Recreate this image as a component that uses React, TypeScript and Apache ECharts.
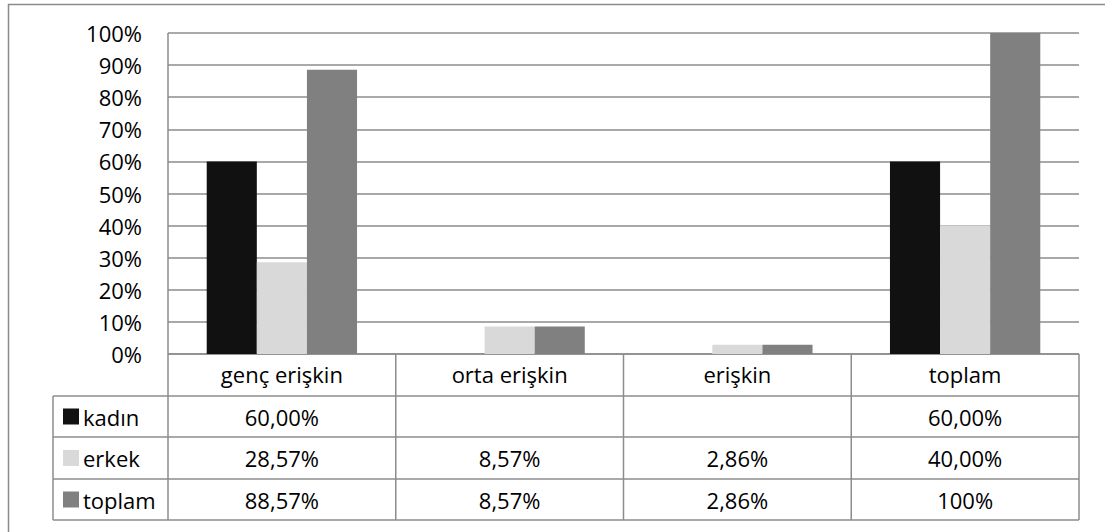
import React, { useEffect, useRef } from "react";
import * as echarts from "echarts";

const categories = ["genç erişkin", "orta erişkin", "erişkin", "toplam"];
const seriesNames = ["kadın", "erkek", "toplam"];
const kadin: (number | null)[] = [60, null, null, 60];
const erkek: (number | null)[] = [28.57, 8.57, 2.86, 40];
const toplam: (number | null)[] = [88.57, 8.57, 2.86, 100];
const seriesColors = ["#111111", "#d9d9d9", "#808080"];

const W = 1105;
const H = 532;
const PLOT_L = 168;
const PLOT_R = 1079;
const PLOT_T = 33;
const PLOT_B = 354;
const TABLE_L = 53;
const ROW_YS = [354, 396, 437, 479, 520];
const FONT = "'Open Sans', sans-serif";
const FS = 22;
const LINE = "#8c8c8c";

function fmt(v: number | null): string {
  if (v === null) return "";
  if (v === 100) return "100%";
  return v.toFixed(2).replace(".", ",") + "%";
}

export default function App() {
  const ref = useRef<HTMLDivElement>(null);
  useEffect(() => {
    if (!ref.current) return;
    const chart = echarts.init(ref.current, null, { renderer: "svg" });
    const dataSets = [kadin, erkek, toplam];
    const colW = (PLOT_R - PLOT_L) / categories.length;
    const graphics: any[] = [];
    graphics.push({
      type: "rect",
      shape: { x: 8.5, y: 4.5, width: 1300, height: 700 },
      style: { fill: "none", stroke: "#8a8a8a", lineWidth: 1.5 },
      silent: true,
    });
    ROW_YS.forEach((y, i) => {
      graphics.push({
        type: "line",
        shape: { x1: i === 0 ? PLOT_L : TABLE_L, y1: y, x2: PLOT_R, y2: y },
        style: { stroke: LINE, lineWidth: 1.5 },
        silent: true,
      });
    });
    graphics.push({
      type: "line",
      shape: { x1: TABLE_L, y1: ROW_YS[1], x2: TABLE_L, y2: ROW_YS[4] },
      style: { stroke: LINE, lineWidth: 1.5 },
      silent: true,
    });
    for (let c = 0; c <= categories.length; c++) {
      const x = PLOT_L + c * colW;
      graphics.push({
        type: "line",
        shape: { x1: x, y1: c === 0 ? PLOT_T : PLOT_B, x2: x, y2: ROW_YS[4] },
        style: { stroke: LINE, lineWidth: 1.5 },
        silent: true,
      });
    }
    seriesNames.forEach((name, r) => {
      const cy = (ROW_YS[r + 1] + ROW_YS[r + 2]) / 2;
      graphics.push({
        type: "rect",
        shape: { x: 63, y: cy - 8, width: 16, height: 16 },
        style: { fill: seriesColors[r] },
        silent: true,
      });
      graphics.push({
        type: "text",
        x: 83,
        y: cy,
        style: {
          text: name,
          font: `${FS}px ${FONT}`,
          fill: "#000",
          textVerticalAlign: "middle",
          textAlign: "left",
        },
        silent: true,
      });
      dataSets[r].forEach((v, c) => {
        graphics.push({
          type: "text",
          x: PLOT_L + (c + 0.5) * colW,
          y: cy,
          style: {
            text: fmt(v),
            font: `${FS}px ${FONT}`,
            fill: "#000",
            textVerticalAlign: "middle",
            textAlign: "center",
          },
          silent: true,
        });
      });
    });

    chart.setOption({
      animation: false,
      backgroundColor: "#ffffff",
      grid: {
        left: PLOT_L,
        right: W - PLOT_R,
        top: PLOT_T,
        bottom: H - PLOT_B,
      },
      xAxis: {
        type: "category",
        data: categories,
        axisLine: { show: false },
        axisTick: { show: false },
        axisLabel: {
          margin: 9,
          color: "#000",
          fontFamily: FONT,
          fontSize: FS,
        },
      },
      yAxis: {
        type: "value",
        min: 0,
        max: 100,
        interval: 10,
        axisLine: { show: false },
        axisTick: { show: false },
        splitLine: { lineStyle: { color: LINE, width: 1.5 } },
        axisLabel: {
          formatter: "{value}%",
          margin: 26,
          color: "#000",
          fontFamily: FONT,
          fontSize: FS,
        },
      },
      series: seriesNames.map((name, i) => ({
        name,
        type: "bar",
        data: dataSets[i],
        barGap: "0%",
        barCategoryGap: "34%",
        itemStyle: { color: seriesColors[i] },
      })),
      graphic: graphics,
    });
    return () => chart.dispose();
  }, []);
  return (
    <div
      ref={ref}
      style={{ position: "fixed", left: 0, top: 0, width: W, height: H }}
    />
  );
}
